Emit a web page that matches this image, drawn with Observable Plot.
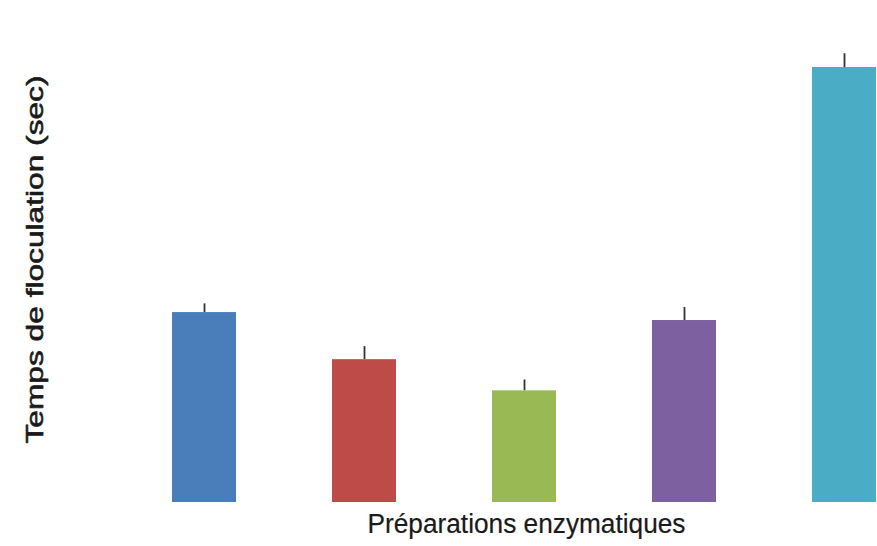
<!DOCTYPE html>
<html>
<head>
<meta charset="utf-8">
<script src="https://cdn.jsdelivr.net/npm/d3@7"></script>
<script src="https://cdn.jsdelivr.net/npm/@observablehq/plot@0.6"></script>
<style>
  html, body { margin: 0; padding: 0; background: #fff; overflow: hidden; }
</style>
</head>
<body>
<div id="chart"></div>
<script>
const categories = ["P1", "P2", "P3", "P4", "P5"];
const values = [26.2, 19.7, 15.4, 25.1, 60];
const errors = [1.2, 1.8, 1.5, 1.8, 1.9];
const colors = ["#4a7ebb", "#be4b48", "#98b954", "#7d60a0", "#4bacc6"];
const xLabel = "Préparations enzymatiques";
const yLabel = "Temps de floculation (sec)";

const data = categories.map((c, i) => ({cat: c, value: values[i], err: errors[i]}));

const chart = Plot.plot({
  width: 877,
  height: 546,
  marginLeft: 0,
  marginRight: 0,
  marginTop: 0,
  marginBottom: 0,
  style: {fontFamily: "Liberation Sans, Arial, sans-serif", background: "#fff"},
  x: {domain: categories, range: [89, 958], paddingInner: 0.6, paddingOuter: 0.5, axis: null},
  y: {domain: [0, 60], range: [502, 67], axis: null},
  color: {domain: categories, range: colors},
  marks: [
    Plot.ruleX(data, {x: "cat", y1: "value", y2: d => d.value + d.err, stroke: "#333", strokeWidth: 1.8, clip: true}),
    Plot.barY(data, {x: "cat", y: "value", fill: "cat", clip: true}),
    Plot.text([xLabel], {frameAnchor: "bottom", dx: 87.5, dy: -22, lineAnchor: "middle", textAnchor: "middle", fontSize: 27, fill: "#1a1a1a", stroke: "#1a1a1a", strokeWidth: 0.2, className: "xlab"}),
    Plot.text([yLabel], {frameAnchor: "left", dx: 35, dy: -14, rotate: -90, textAnchor: "middle", lineAnchor: "middle", fontSize: 24, fill: "#1a1a1a", stroke: "#1a1a1a", strokeWidth: 0.6, className: "ylab"})
  ]
});
document.getElementById("chart").appendChild(chart);

d3.select(chart).selectAll("g.xlab text").attr("textLength", 318).attr("lengthAdjust", "spacingAndGlyphs");
d3.select(chart).selectAll("g.ylab text").attr("textLength", 368).attr("lengthAdjust", "spacingAndGlyphs");
</script>
</body>
</html>
